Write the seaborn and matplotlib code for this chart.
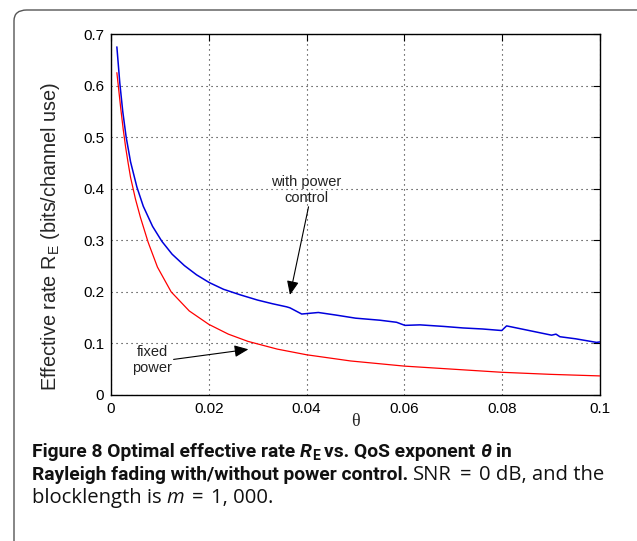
import numpy as np
import pandas as pd
import matplotlib
matplotlib.use('Agg')
import matplotlib.pyplot as plt
import seaborn as sns
from matplotlib.patches import FancyBboxPatch

# ---------------- data ----------------
theta_power_control = [0.0012, 0.0015, 0.0018, 0.0024, 0.0031, 0.004, 0.0053, 0.0066,
                       0.0085, 0.0104, 0.0125, 0.015, 0.0175, 0.0201, 0.023, 0.0265,
                       0.030, 0.033, 0.0359, 0.0366, 0.039, 0.0424, 0.046, 0.05,
                       0.055, 0.0584, 0.0601, 0.0632, 0.068, 0.072, 0.076, 0.0799,
                       0.0809, 0.085, 0.0901, 0.091, 0.0918, 0.095, 0.0993, 0.1]
rate_power_control = [0.675, 0.64, 0.605, 0.55, 0.5, 0.452, 0.403, 0.366,
                      0.327, 0.298, 0.273, 0.251, 0.233, 0.218, 0.205, 0.194,
                      0.184, 0.177, 0.171, 0.169, 0.157, 0.160, 0.155, 0.149,
                      0.145, 0.141, 0.135, 0.136, 0.133, 0.130, 0.128, 0.125,
                      0.134, 0.126, 0.116, 0.118, 0.113, 0.109, 0.102, 0.103]

theta_fixed = [0.0012, 0.0016, 0.002, 0.0025, 0.003, 0.0035, 0.004, 0.005, 0.006,
               0.0076, 0.0095, 0.0123, 0.016, 0.02, 0.024, 0.028, 0.034, 0.04,
               0.049, 0.06, 0.07, 0.08, 0.09, 0.1]
rate_fixed = [0.625, 0.59, 0.555, 0.515, 0.48, 0.45, 0.422, 0.38, 0.345,
              0.296, 0.248, 0.2, 0.163, 0.137, 0.118, 0.104, 0.089, 0.078,
              0.066, 0.056, 0.050, 0.044, 0.040, 0.037]

x_ticks = [0, 0.02, 0.04, 0.06, 0.08, 0.1]
x_tick_labels = ['0', '0.02', '0.04', '0.06', '0.08', '0.1']
y_ticks = [0, 0.1, 0.2, 0.3, 0.4, 0.5, 0.6, 0.7]
y_tick_labels = ['0', '0.1', '0.2', '0.3', '0.4', '0.5', '0.6', '0.7']

label_pc = 'with power\ncontrol'
label_fixed = 'fixed\npower'
x_label = 'θ'
y_label = 'Effective rate R$_\\mathregular{E}$ (bits/channel use)'

# ---------------- style ----------------
sns.set_theme(style='white')
plt.rcParams['font.family'] = ['Liberation Sans', 'DejaVu Sans']
plt.rcParams['mathtext.fontset'] = 'custom'
plt.rcParams['mathtext.rm'] = 'Liberation Sans'

W, H = 637, 541
fig = plt.figure(figsize=(W / 100, H / 100), dpi=100)
fig.patch.set_facecolor('white')

# outer rounded frame
frame = FancyBboxPatch((14 / W, -0.2), 1.2, 1 - 10 / H + 0.2,
                       boxstyle='round,pad=0,rounding_size=0.02',
                       transform=fig.transFigure, facecolor='none',
                       edgecolor='#555555', linewidth=1.0, zorder=0)
fig.patches.append(frame)

ax = fig.add_axes([111 / W, 1 - 395 / H, 489 / W, 361 / H])
ax.set_facecolor('white')

df_pc = pd.DataFrame({'theta': theta_power_control, 'rate': rate_power_control})
df_fx = pd.DataFrame({'theta': theta_fixed, 'rate': rate_fixed})

sns.lineplot(data=df_pc, x='theta', y='rate', color='#0000dd', linewidth=1.1,
             estimator=None, sort=False, ax=ax, zorder=3)
sns.lineplot(data=df_fx, x='theta', y='rate', color='#ff0000', linewidth=0.9,
             estimator=None, sort=False, ax=ax, zorder=3)

ax.set_xlim(0, 0.1)
ax.set_ylim(0, 0.7)
ax.set_xticks(x_ticks)
ax.set_xticklabels(x_tick_labels)
ax.set_yticks(y_ticks)
ax.set_yticklabels(y_tick_labels)
ax.tick_params(direction='in', length=5, width=0.8, colors='black',
               labelsize=11, top=True, right=True, pad=5)
for s in ax.spines.values():
    s.set_visible(True)
    s.set_color('black')
    s.set_linewidth(1.0)
ax.grid(True, color='#222222', linestyle=(0, (1, 3.5)), linewidth=0.8)
ax.set_axisbelow(True)

ax.set_xlabel(x_label, fontsize=13, family=['Liberation Serif', 'DejaVu Serif'])
ax.xaxis.set_label_coords(0.5, -0.05)
ax.set_ylabel(y_label, fontsize=14.3)
ax.yaxis.label.set_verticalalignment('center')
ax.yaxis.set_label_coords(-0.124, 0.44)

# annotations
ax.text(0.0400, 0.398, label_pc, ha='center', va='center', fontsize=10.5,
        linespacing=1.15, color='#222222')
ax.annotate('', xy=(0.0366, 0.194), xytext=(0.0404, 0.365),
            arrowprops=dict(arrowstyle='-|>,head_length=0.7,head_width=0.3',
                            color='black', lw=0.8, shrinkA=0, shrinkB=0))
ax.text(0.0084, 0.068, label_fixed, ha='center', va='center', fontsize=10.5,
        linespacing=1.15, color='#222222')
ax.annotate('', xy=(0.0281, 0.0886), xytext=(0.0128, 0.069),
            arrowprops=dict(arrowstyle='-|>,head_length=0.7,head_width=0.3',
                            color='black', lw=0.8, shrinkA=0, shrinkB=0))

# ---------------- caption ----------------
bold_font = ['Roboto', 'DejaVu Sans']
reg_font = ['Open Sans', 'DejaVu Sans']
renderer = fig.canvas.get_renderer()
PX = 100 / 72


def draw_line(segments, x0, ybase, sb, sr, draw=True):
    """segments: (text, weight, style, scale, dy_px, gap_after_em)"""
    x = x0
    made = []
    for text, weight, style, sc, dy, gap in segments:
        bold = weight == 'bold'
        s = sb if bold else sr
        t = fig.text(x / W, 1 - (ybase + dy) / H, text, fontsize=s * sc,
                     fontweight=weight, fontstyle=style,
                     family=bold_font if bold else reg_font,
                     ha='left', va='baseline', color='#111111')
        x += t.get_window_extent(renderer).width + gap * s * PX
        made.append(t)
    if not draw:
        for t in made:
            t.remove()
    return x


sp = 0.24   # word space (em)
msp = 0.38  # math space around '=' (em)
line1 = [('Figure 8 Optimal effective rate', 'bold', 'normal', 1, 0, sp),
         ('R', 'bold', 'italic', 1, 0, 0),
         ('E', 'bold', 'normal', 0.72, 3, sp),
         ('vs. QoS exponent', 'bold', 'normal', 1, 0, sp),
         ('θ', 'bold', 'italic', 1, 0, sp),
         ('in', 'bold', 'normal', 1, 0, 0)]
line2 = [('Rayleigh fading with/without power control.', 'bold', 'normal', 1, 0, sp),
         ('SNR', 'normal', 'normal', 1, 0, msp),
         ('=', 'normal', 'normal', 1, 0, msp),
         ('0 dB, and the', 'normal', 'normal', 1, 0, 0)]
line3 = [('blocklength is', 'normal', 'normal', 1, 0, sp),
         ('m', 'normal', 'italic', 1, 0, msp),
         ('=', 'normal', 'normal', 1, 0, msp),
         ('1, 000.', 'normal', 'normal', 1, 0, 0)]

X0 = 32
# bold size: line 1 ends at about x=515
sb = 13.0
for _ in range(4):
    end = draw_line(line1, X0, 0, sb, sb, draw=False)
    sb *= (515 - X0) / (end - X0)
sr = sb * 1.05

draw_line(line1, X0, 457, sb, sr)
draw_line(line2, X0, 480, sb, sr)
draw_line(line3, X0, 503, sb, sr)

fig.savefig('out.png', dpi=100, facecolor='white')
